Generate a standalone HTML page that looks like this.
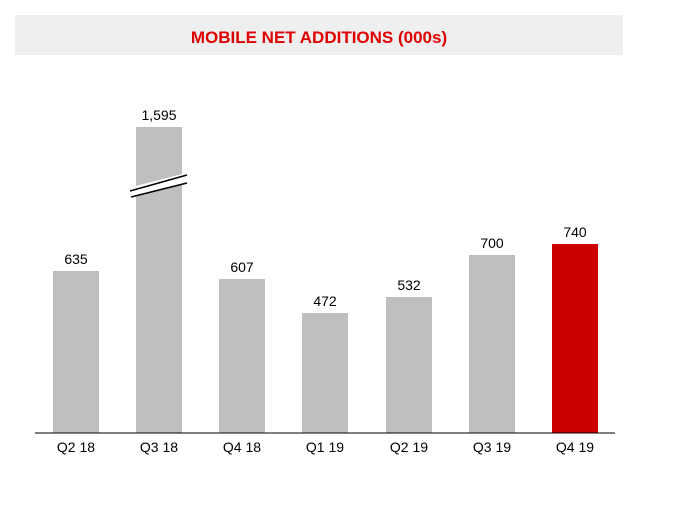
<!DOCTYPE html>
<html><head><style>
body{margin:0;background:#fff;width:694px;height:509px;overflow:hidden;font-family:"Liberation Sans",Calibri,sans-serif}
</style></head><body>
<svg width="694" height="509" xmlns="http://www.w3.org/2000/svg" font-family="Liberation Sans, sans-serif">
<rect x="15" y="15" width="608" height="40" fill="#efefef"/>
<text x="319" y="43" text-anchor="middle" font-size="17" font-weight="bold" fill="#e00000">MOBILE NET ADDITIONS (000s)</text>
<g fill="#bfbfbf">
<rect x="53" y="271" width="46" height="162"/>
<rect x="136" y="127" width="46" height="306"/>
<rect x="219" y="279" width="46" height="154"/>
<rect x="302" y="313" width="46" height="120"/>
<rect x="386" y="297" width="46" height="136"/>
<rect x="469" y="255" width="46" height="178"/>
</g>
<rect x="552" y="244" width="46" height="189" fill="#cc0000"/>
<polygon points="128,188 190,172 190,182 128,198" fill="#fff"/>
<line x1="130" y1="191" x2="187" y2="175" stroke="#000" stroke-width="1.5"/>
<line x1="131" y1="197" x2="187" y2="183" stroke="#000" stroke-width="1.5"/>
<line x1="35" y1="433" x2="615" y2="433" stroke="#000" stroke-width="1"/>
<g font-size="14" text-anchor="middle" fill="#000">
<text x="76" y="264">635</text>
<text x="159" y="120">1,595</text>
<text x="242" y="272">607</text>
<text x="325" y="306">472</text>
<text x="409" y="290">532</text>
<text x="492" y="248">700</text>
<text x="575" y="237">740</text>
<text x="76" y="452">Q2 18</text>
<text x="159" y="452">Q3 18</text>
<text x="242" y="452">Q4 18</text>
<text x="325" y="452">Q1 19</text>
<text x="409" y="452">Q2 19</text>
<text x="492" y="452">Q3 19</text>
<text x="575" y="452">Q4 19</text>
</g>
</svg>
</body></html>
